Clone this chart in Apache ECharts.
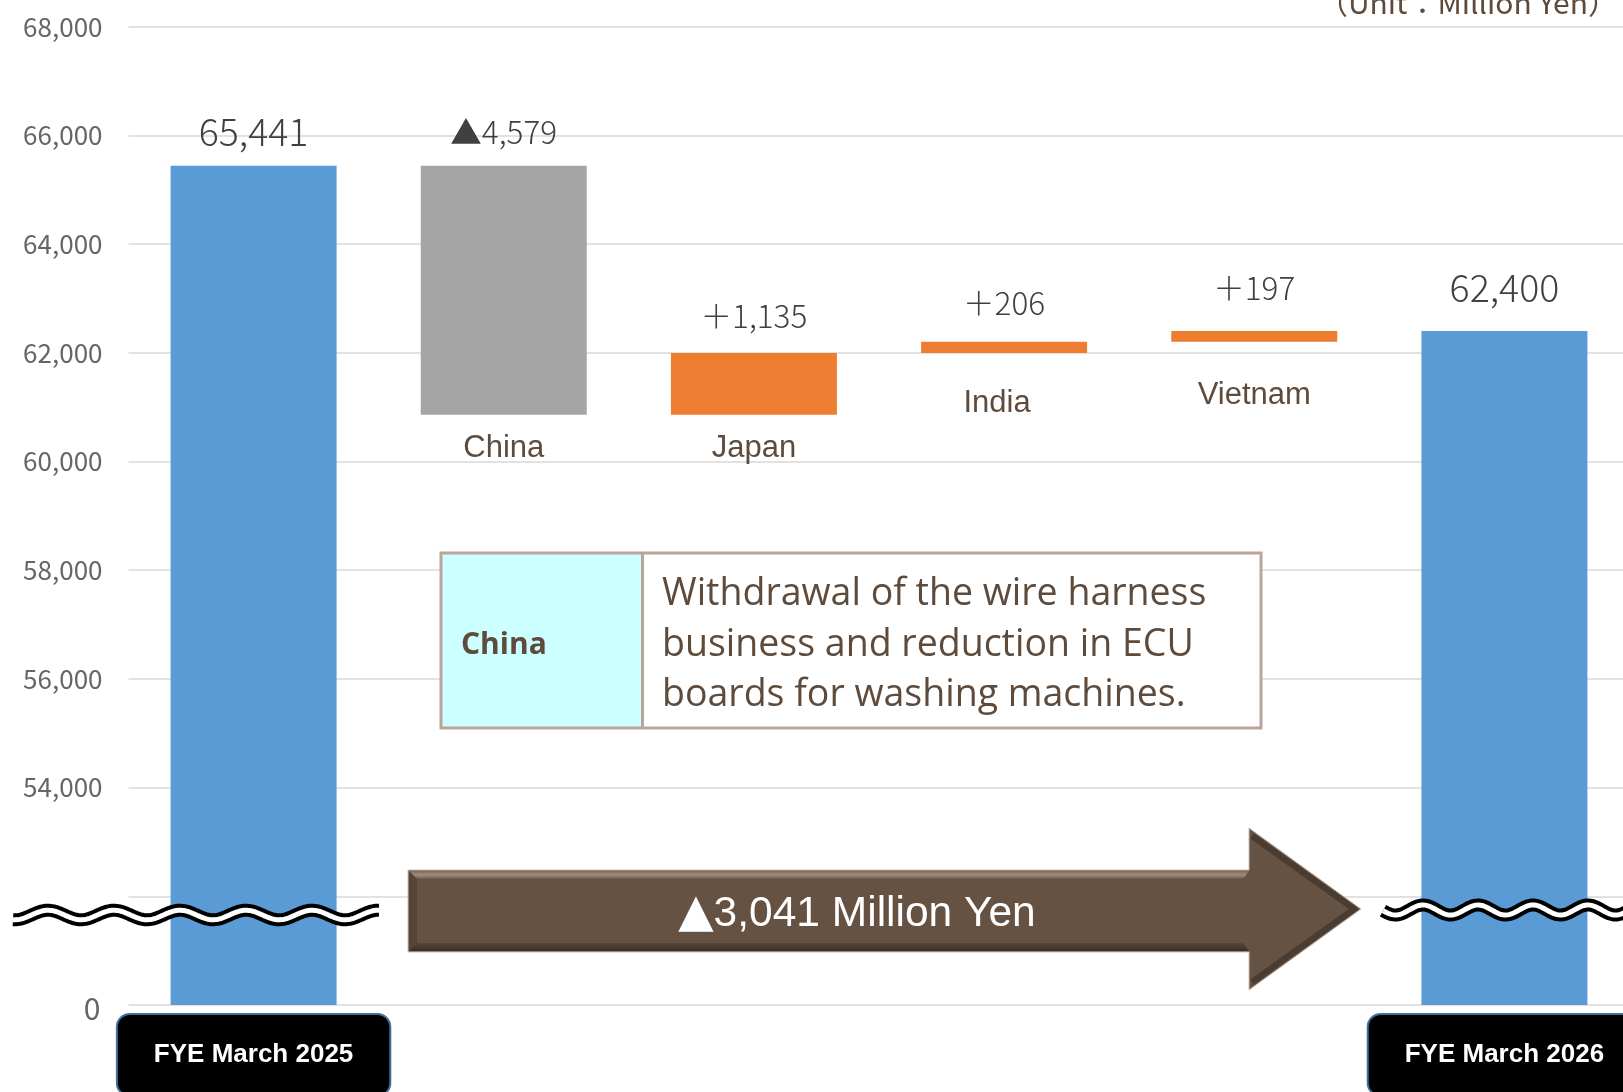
<!DOCTYPE html>
<html>
<head>
<meta charset="utf-8">
<script src="https://cdn.jsdelivr.net/npm/echarts@6/dist/echarts.min.js"></script>
<style>
html,body{margin:0;padding:0;background:#ffffff;}
#chart{width:1623px;height:1092px;}
</style>
</head>
<body>
<div id="chart"></div>
<script>
// ---------- data ----------
const categories = ['FYE March 2025', 'China', 'Japan', 'India', 'Vietnam', 'FYE March 2026'];
const startTotal = 65441;
const regionDeltas = [-4579, 1135, 206, 197];
const endTotal = 62400;
const yMin = 50000, yMax = 68000, yStep = 2000;
const yTickOverrides = { 50000: '{z|0}', 52000: '' };
const unitText = '（Unit：Million Yen）';
const noteHead = 'China';
const noteLines = ['Withdrawal of the wire harness', 'business and reduction in ECU', 'boards for washing machines.'];
const arrowMark = '▲';
const arrowText = '3,041 Million Yen';

// ---------- waterfall build ----------
const baseVals = [0];
const barVals = [startTotal];
const signs = [0];
let running = startTotal;
regionDeltas.forEach(d => {
  const next = running + d;
  baseVals.push(Math.min(running, next));
  barVals.push(Math.abs(d));
  signs.push(d < 0 ? -1 : 1);
  running = next;
});
baseVals.push(0);
barVals.push(endTotal);
signs.push(0);

const COL_TOTAL = '#5B9BD5', COL_NEG = '#A5A5A5', COL_POS = '#ED7D31';
const valueGap = [15, 18, 21, 23, 27, 25];
const nameGap = [0, 18, 18, 35, 38, 0];
const nameShiftX = [0, 0, 0, -7, 0, 0];

function fmt(n) { return Math.abs(n).toLocaleString('en-US'); }

const visData = barVals.map((v, i) => {
  const isTotal = signs[i] === 0;
  return {
    value: v,
    itemStyle: { color: isTotal ? COL_TOTAL : (signs[i] < 0 ? COL_NEG : COL_POS) },
    label: {
      distance: valueGap[i],
      fontSize: isTotal ? 37.5 : 31.5,
      formatter: isTotal ? fmt(v) : (signs[i] < 0 ? '▲' : '＋') + fmt(v)
    }
  };
});

const baseData = baseVals.map((v, i) => ({
  value: v,
  label: {
    show: signs[i] !== 0,
    distance: nameGap[i],
    offset: [nameShiftX[i], 0],
    formatter: categories[i]
  }
}));

// ---------- decorations ----------
function wave(x0, x1, yc, amp, period, xPeak) {
  const pts = [];
  for (let x = x0; x <= x1; x += 1.5) {
    pts.push([x, yc - amp * Math.cos(2 * Math.PI * (x - xPeak) / period)]);
  }
  return pts;
}
function waveEls(x0, x1, yc, amp, period, xPeak) {
  const pts = wave(x0, x1, yc, amp, period, xPeak);
  return [
    { type: 'polyline', z: 120, silent: true, shape: { points: pts }, style: { stroke: '#000', lineWidth: 13, fill: null, lineCap: 'butt' } },
    { type: 'polyline', z: 121, silent: true, shape: { points: pts }, style: { stroke: '#fff', lineWidth: 5, fill: null, lineCap: 'butt' } }
  ];
}

const arrowPts = [[408, 870], [1249, 870], [1249, 828], [1361, 909], [1249, 990], [1249, 952], [408, 952]];

const graphics = [
  // unit
  { type: 'text', z: 100, silent: true, style: { x: 1618, y: 3, text: unitText, align: 'right', verticalAlign: 'middle', fill: '#5E4B3C', font: '30px "Noto Sans CJK JP"' } },
  // note box
  { type: 'rect', z: 100, silent: true, shape: { x: 441, y: 553, width: 820, height: 175 }, style: { fill: '#ffffff' } },
  { type: 'rect', z: 101, silent: true, shape: { x: 441, y: 553, width: 201, height: 175 }, style: { fill: '#CCFFFF' } },
  { type: 'line', z: 102, silent: true, shape: { x1: 642.5, y1: 553, x2: 642.5, y2: 728 }, style: { stroke: '#BCA598', lineWidth: 3 } },
  { type: 'rect', z: 102, silent: true, shape: { x: 441, y: 553, width: 820, height: 175 }, style: { fill: null, stroke: '#BCA598', lineWidth: 3 } },
  { type: 'text', z: 103, silent: true, style: { x: 461, y: 645, text: noteHead, align: 'left', verticalAlign: 'middle', fill: '#5E4B3C', font: 'bold 30px "Open Sans"' } },
  { type: 'text', z: 103, silent: true, style: { x: 662, y: 569.5, text: noteLines.join('\n'), align: 'left', verticalAlign: 'top', lineHeight: 50.3, fill: '#5E4B3C', font: '37.5px "Open Sans"' } },
  // arrow
  { type: 'polygon', z: 100, silent: true, shape: { points: arrowPts }, style: { fill: '#665243', stroke: '#c9c1ba', lineWidth: 1 } },
  { type: 'polygon', z: 101, silent: true, shape: { points: [[409, 871], [1249, 871], [1243, 879], [417, 879]] },
    style: { fill: new echarts.graphic.LinearGradient(0, 0, 0, 1, [{ offset: 0, color: '#7d6a5b' }, { offset: 0.5, color: '#a08d7e' }, { offset: 1, color: '#6c5848' }]) } },
  { type: 'polygon', z: 101, silent: true, shape: { points: [[409, 871], [417, 879], [417, 943], [409, 951]] }, style: { fill: '#574537' } },
  { type: 'polygon', z: 101, silent: true, shape: { points: [[409, 951], [417, 943], [1243, 943], [1249, 951]] },
    style: { fill: new echarts.graphic.LinearGradient(0, 0, 0, 1, [{ offset: 0, color: '#56463a' }, { offset: 1, color: '#3b2f26' }]) } },
  { type: 'polyline', z: 101, silent: true, shape: { points: [[1252, 836], [1354, 909], [1252, 982]] }, style: { stroke: '#4b3c31', lineWidth: 6, fill: null } },
  { type: 'text', z: 104, silent: true, style: {
      x: 857, y: 914, align: 'center', verticalAlign: 'middle',
      text: '{t|' + arrowMark + '}{n|' + arrowText + '}',
      rich: {
        t: { fill: '#ffffff', font: '46px "DejaVu Sans"', verticalAlign: 'bottom' },
        n: { fill: '#ffffff', font: '42.5px "Liberation Sans"' }
      }
  } }
].concat(waveEls(13, 379, 915, 4.75, 66, 48), waveEls(1383, 1640, 910, 5, 55, 1423));

// ---------- chart ----------
const chart = echarts.init(document.getElementById('chart'), null, { renderer: 'canvas' });
chart.setOption({
  backgroundColor: '#ffffff',
  animation: false,
  grid: { left: 128.5, top: 26.7, width: 1501, height: 978.3, containLabel: false, outerBoundsMode: 'none' },
  xAxis: {
    type: 'category',
    data: categories,
    axisLine: { show: false },
    axisTick: { show: false },
    splitLine: { show: false },
    axisLabel: {
      interval: 0,
      margin: 37,
      formatter: (v, i) => (i === 0 || i === categories.length - 1) ? '{b|' + v + '}' : '',
      rich: {
        b: {
          backgroundColor: '#000000',
          borderColor: '#41719C',
          borderWidth: 2,
          borderRadius: 12,
          padding: [27, 36, 27, 36],
          color: '#ffffff',
          fontWeight: 'bold',
          fontSize: 26,
          lineHeight: 26,
          fontFamily: '"Liberation Sans", Arial, sans-serif'
        }
      }
    }
  },
  yAxis: {
    type: 'value',
    min: yMin,
    max: yMax,
    interval: yStep,
    axisLine: { show: false },
    axisTick: { show: false },
    splitLine: { lineStyle: { color: '#D9D9D9', width: 1.5 } },
    axisLabel: {
      margin: 26,
      fontSize: 26,
      color: '#666666',
      fontFamily: '"Noto Sans CJK JP", sans-serif',
      formatter: v => (v in yTickOverrides) ? yTickOverrides[v] : v.toLocaleString('en-US'),
      rich: { z: { fontSize: 30, color: '#666666', fontFamily: '"Noto Sans CJK JP", sans-serif', padding: [8, 2, 0, 0] } }
    }
  },
  series: [
    {
      name: 'base',
      type: 'bar',
      stack: 'wf',
      barWidth: 166,
      silent: true,
      itemStyle: { color: 'rgba(0,0,0,0)' },
      emphasis: { disabled: true },
      label: {
        show: true,
        position: 'insideTop',
        fontSize: 31,
        color: '#5E4B3C',
        fontFamily: '"Liberation Sans", Arial, sans-serif'
      },
      data: baseData
    },
    {
      name: 'value',
      type: 'bar',
      stack: 'wf',
      barWidth: 166,
      silent: true,
      emphasis: { disabled: true },
      label: {
        show: true,
        position: 'top',
        color: '#404040',
        fontWeight: 300,
        fontFamily: '"Noto Sans CJK JP", sans-serif'
      },
      data: visData
    }
  ],
  graphic: graphics
});
</script>
</body>
</html>
